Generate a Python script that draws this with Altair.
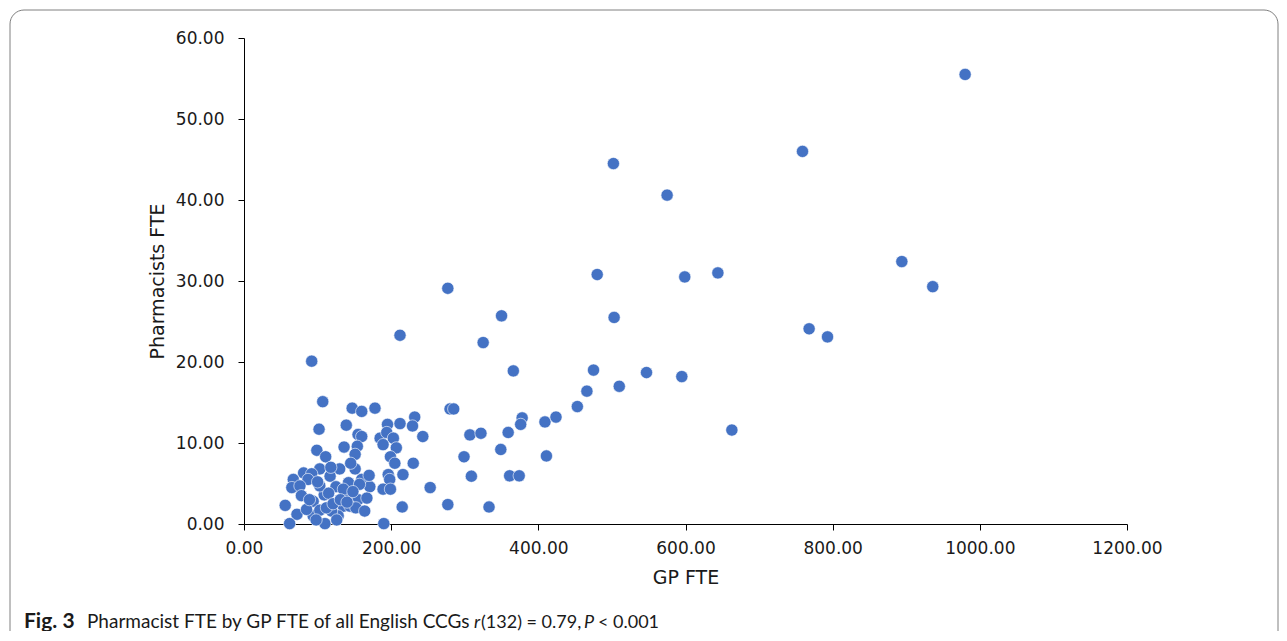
import altair as alt
import pandas as pd

# GP FTE (x) and Pharmacist FTE (y) per CCG
gp_fte = [
    980, 759, 502, 575, 480, 599, 644, 894, 936, 768, 793, 663, 503, 277, 350,
    212, 325, 92, 366, 475, 547, 595, 510, 466, 453, 280, 285, 378, 376, 409,
    424, 307, 322, 359, 299, 349, 411, 309, 361, 374, 253, 277, 333, 215, 243,
    230, 216, 232, 212, 229,
    107, 147, 160, 178, 195, 139, 102, 155, 160, 185, 194, 203, 189, 207, 136,
    154, 151, 99, 111, 199, 205, 151, 130, 103, 81, 92, 117, 196, 160, 198,
    142, 67, 65, 125, 171, 189, 199, 109, 144, 94, 56, 155, 135, 72, 94,
    128, 62, 110, 190, 85, 103, 119, 144, 152, 167, 87, 76, 103, 135, 164,
    157, 112, 100, 115, 121, 131, 140, 148, 118, 145, 78, 89, 98, 126, 170,
]
pharm_fte = [
    55.5, 46.0, 44.5, 40.6, 30.8, 30.5, 31.0, 32.4, 29.3, 24.1, 23.1, 11.6, 25.5, 29.1, 25.7,
    23.3, 22.4, 20.1, 18.9, 19.0, 18.7, 18.2, 17.0, 16.4, 14.5, 14.2, 14.2, 13.1, 12.3, 12.6,
    13.2, 11.0, 11.2, 11.3, 8.3, 9.2, 8.4, 5.9, 5.95, 5.95, 4.5, 2.4, 2.1, 2.1, 10.8,
    7.5, 6.1, 13.2, 12.4, 12.1,
    15.1, 14.3, 13.9, 14.3, 12.3, 12.2, 11.7, 11.05, 10.8, 10.6, 11.3, 10.6, 9.8, 9.4, 9.5,
    9.6, 8.6, 9.1, 8.3, 8.3, 7.5, 6.8, 6.8, 6.8, 6.3, 6.2, 5.9, 6.1, 5.5, 5.5,
    5.1, 5.5, 4.5, 4.6, 4.6, 4.3, 4.3, 3.6, 3.6, 2.8, 2.3, 3.0, 2.2, 1.2, 1.0,
    1.0, 0.05, 0.05, 0.05, 1.8, 1.7, 1.6, 2.2, 2.0, 3.2, 5.5, 4.7, 4.7, 4.3, 1.6,
    4.9, 2.0, 5.2, 3.8, 2.5, 3.0, 2.7, 4.0, 7.0, 7.5, 3.5, 3.0, 0.5, 0.5, 6.0,
]

x_ticks = [0, 200, 400, 600, 800, 1000, 1200]
y_ticks = [0, 10, 20, 30, 40, 50, 60]

df = pd.DataFrame({"gp": gp_fte, "ph": pharm_fte})

FONT = "DejaVu Sans"
TXT = "#1a1a1a"

points = alt.Chart(df).mark_point(
    filled=True, shape="circle", size=150, color="#4472C4", opacity=1,
    stroke="white", strokeWidth=0.6,
).encode(
    x=alt.X("gp:Q", title="GP FTE",
            scale=alt.Scale(domain=[0, 1200], nice=False, zero=True),
            axis=alt.Axis(values=x_ticks, format=".2f", grid=False,
                          labelFlush=False,
                          domainColor="black", tickColor="black", tickSize=6,
                          labelPadding=10, labelFontSize=17, labelFont=FONT,
                          labelColor=TXT, titleFont=FONT, titleFontSize=19,
                          titleFontWeight="normal", titleColor=TXT,
                          titlePadding=12)),
    y=alt.Y("ph:Q", title="Pharmacists FTE",
            scale=alt.Scale(domain=[0, 60], nice=False),
            axis=alt.Axis(values=y_ticks, format=".2f", grid=False,
                          labelFlush=False,
                          domainColor="black", tickColor="black", tickSize=6,
                          labelPadding=14, labelFontSize=17, labelFont=FONT,
                          labelColor=TXT, titleFont=FONT, titleFontSize=19,
                          titleFontWeight="normal", titleColor=TXT,
                          titlePadding=8)),
)

one = pd.DataFrame({"a": [0]})

border = alt.Chart(one).mark_rect(
    fillOpacity=0, stroke="#808080", strokeWidth=1, cornerRadius=14,
).encode(
    x=alt.value(-234), x2=alt.value(1034), y=alt.value(-28), y2=alt.value(660),
)

cap_y = 590
cap_font = "Lato"


def cap(text, x, size=19, weight="normal", style="normal"):
    return alt.Chart(one).mark_text(
        text=text, align="left", baseline="alphabetic", font=cap_font,
        fontSize=size, fontWeight=weight, fontStyle=style, color=TXT,
    ).encode(x=alt.value(x), y=alt.value(cap_y))


fig_lbl = cap("Fig. 3", -220, size=21, weight="bold")
cap_main = cap("Pharmacist FTE by GP FTE of all English CCGs", -157)
cap_r = cap("r", 230, size=18, style="italic")
cap_stat = cap("(132) = 0.79,", 237, size=18)
cap_p = cap("P", 340, size=18, style="italic")
cap_pv = cap("< 0.001", 354, size=18)

chart = alt.layer(
    border, points, fig_lbl, cap_main, cap_r, cap_stat, cap_p, cap_pv
).properties(
    width=883, height=486,
    autosize=alt.AutoSizeParams(type="none"),
    padding={"left": 236, "top": 30, "right": 152, "bottom": 107},
    background="white",
).configure_view(stroke=None)

chart.save("out.html", embed_options={"renderer": "svg", "actions": False})
